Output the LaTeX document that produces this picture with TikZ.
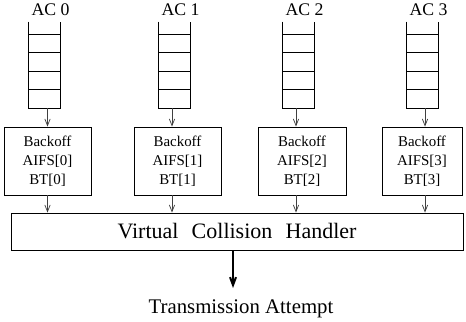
\documentclass[tikz,border=0pt]{standalone}
\usepackage{fontspec}
\setmainfont{Liberation Serif}
\usetikzlibrary{arrows.meta,calc}
\begin{document}
\begin{tikzpicture}[x=0.75pt,y=-0.75pt,
  queue/.style={draw=none,rectangle,inner sep=0pt,minimum width=23.25pt,minimum height=64.5pt},
  bobox/.style={draw,line width=0.6pt,rectangle,inner sep=0pt,minimum height=51pt,align=center,
    font=\fontsize{11.2}{14.2}\selectfont},
  aclabel/.style={anchor=base,inner sep=0pt,font=\fontsize{13.3}{15}\selectfont},
  arr/.style={draw=black!75,line width=0.55pt,-{Straight Barb[length=5pt,width=4pt]}},
  bigarr/.style={draw=black,line width=1.5pt,-{Straight Barb[length=6pt,width=4.5pt]}}
]
\useasboundingbox (0,0) rectangle (466,321);

% queues
\foreach \i/\x in {0/44.5,1/174.5,2/298.5,3/422.5}{
  \node[queue] (q\i) at (\x,65) {};
  \draw[line width=0.6pt] (q\i.north west) -- (q\i.south west) -- (q\i.south east) -- (q\i.north east);
  \foreach \k in {1,2,3,4}{
    \draw[line width=0.6pt] ($(q\i.south west)+(0,-\k*18.5)$) -- ($(q\i.south east)+(0,-\k*18.5)$);
  }
  \node[aclabel] (ac\i) at ($(q\i.north)+(6,-6)$) {AC \i};
}

% backoff boxes
\node[bobox,minimum width=65.25pt] (b0) at (47.5,161) {Backoff\\AIFS[0]\\BT[0]};
\node[bobox,minimum width=65.25pt] (b1) at (177.5,161) {Backoff\\AIFS[1]\\BT[1]};
\node[bobox,minimum width=66pt] (b2) at (302,161) {Backoff\\AIFS[2]\\BT[2]};
\node[bobox,minimum width=60pt] (b3) at (422,161) {Backoff\\AIFS[3]\\BT[3]};

% virtual collision handler
\node[draw,line width=0.6pt,rectangle,inner sep=0pt,minimum width=339pt,minimum height=27.75pt,
  font=\fontsize{16.5}{18}\selectfont] (vch) at (237,231.5)
  {Virtual\hspace{0.6em}Collision\hspace{0.6em}Handler};

% arrows
\foreach \i/\ax in {0/47.5,1/172,2/296,3/425}{
  \draw[arr] (q\i.south -| \ax,0) -- (b\i.north -| \ax,0);
  \draw[arr] (b\i.south -| \ax,0) -- (vch.north -| \ax,0);
}

\node[anchor=base,inner sep=0pt,font=\fontsize{15.6}{18}\selectfont] (ta) at (241,313) {Transmission Attempt};
\coordinate (tip) at (233,288);
\draw[bigarr] (vch.south -| tip) -- (tip);
\end{tikzpicture}
\end{document}
